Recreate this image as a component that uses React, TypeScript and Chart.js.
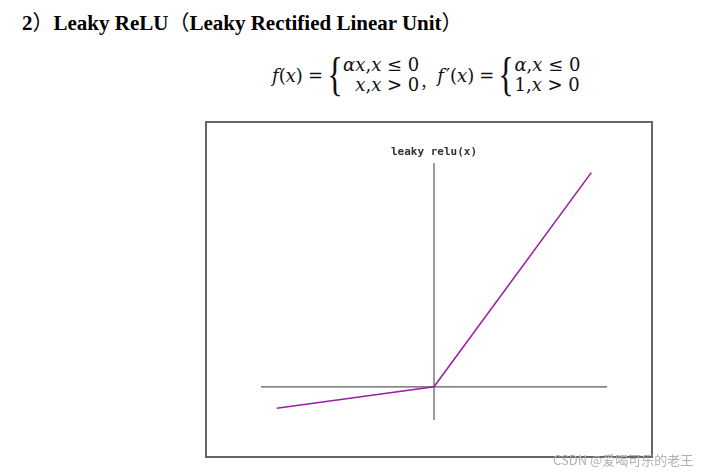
import React, { useEffect, useRef } from "react";
import { Chart, registerables } from "chart.js";

Chart.register(...registerables);

// Data: leaky ReLU with alpha = 0.1
const xValues = [-10, 0, 10];
const yValues = [-1, 0, 10];
const xRange = [-11, 11];
const yRange = [-1.55, 10.45];
const chartTitle = "leaky relu(x)";

const axesPlugin = {
  id: "zeroAxes",
  beforeDatasetsDraw(chart: any) {
    const { ctx, chartArea, scales } = chart;
    const x0 = scales.x.getPixelForValue(0);
    const y0 = scales.y.getPixelForValue(0);
    ctx.save();
    ctx.strokeStyle = "#5a5a5a";
    ctx.lineWidth = 1.2;
    ctx.beginPath();
    ctx.moveTo(chartArea.left, y0);
    ctx.lineTo(chartArea.right, y0);
    ctx.moveTo(x0, chartArea.top);
    ctx.lineTo(x0, chartArea.bottom);
    ctx.stroke();
    ctx.restore();
  },
};

function LeakyChart() {
  const ref = useRef<HTMLCanvasElement | null>(null);
  useEffect(() => {
    if (!ref.current) return;
    const chart = new Chart(ref.current, {
      type: "scatter",
      data: {
        datasets: [
          {
            data: xValues.map((x, i) => ({ x, y: yValues[i] })),
            showLine: true,
            borderColor: "#9a1fa6",
            borderWidth: 1.6,
            pointRadius: 0,
            fill: false,
          },
        ],
      },
      options: {
        animation: false,
        responsive: false,
        maintainAspectRatio: false,
        layout: { padding: { left: 54, right: 44, top: 40, bottom: 36 } },
        plugins: { legend: { display: false }, tooltip: { enabled: false }, title: { display: false } },
        scales: {
          x: { type: "linear", min: xRange[0], max: xRange[1], display: false },
          y: { type: "linear", min: yRange[0], max: yRange[1], display: false },
        },
      },
      plugins: [axesPlugin],
    });
    return () => chart.destroy();
  }, []);
  return <canvas ref={ref} width={444} height={333} style={{ width: 444, height: 333, display: "block" }} />;
}

const mathFont = "'DejaVu Serif', 'Liberation Serif', serif";

function Brace() {
  return (
    <span style={{ fontFamily: "'Liberation Serif', serif", fontSize: 46, lineHeight: "44px", display: "inline-block", transform: "scaleX(0.7)", margin: "0 -3px 0 -4px" }}>
      {"{"}
    </span>
  );
}

export default function App() {
  return (
    <div style={{ position: "absolute", left: 0, top: 0, width: 703, height: 473, background: "#fff", overflow: "hidden" }}>
      <div
        style={{
          position: "absolute",
          left: 22,
          top: 6,
          fontFamily: "'Liberation Serif', 'Noto Sans CJK SC', serif",
          fontWeight: "bold",
          fontSize: 21,
          color: "#000",
          whiteSpace: "nowrap",
        }}
      >
        2<span style={{ fontFamily: "'Noto Sans CJK SC'", fontWeight: "normal" }}>）</span>Leaky ReLU
        <span style={{ fontFamily: "'Noto Sans CJK SC'", fontWeight: "normal" }}>（</span>Leaky Rectified Linear Unit
        <span style={{ fontFamily: "'Noto Sans CJK SC'", fontWeight: "normal" }}>）</span>
      </div>

      <div
        style={{
          position: "absolute",
          left: 272,
          top: 53,
          height: 44,
          display: "flex",
          alignItems: "center",
          fontFamily: mathFont,
          fontSize: 18,
          color: "#111",
          whiteSpace: "nowrap",
        }}
      >
        <span style={{ fontStyle: "italic" }}>f</span>
        <span>(</span>
        <span style={{ fontStyle: "italic" }}>x</span>
        <span>)</span>
        <span style={{ margin: "0 5px" }}>=</span>
        <Brace />
        <span style={{ display: "inline-flex", flexDirection: "column", alignItems: "flex-end", lineHeight: "20px" }}>
          <span><i>αx</i>,<i>x</i> ≤ 0</span>
          <span><i>x</i>,<i>x</i> &gt; 0</span>
        </span>
        <span style={{ fontFamily: "'Noto Sans CJK SC'", fontSize: 15, marginTop: 12, marginLeft: 1, marginRight: 2 }}>，</span>
        <span style={{ fontStyle: "italic" }}>f</span>
        <span style={{ marginLeft: 2 }}>′</span>
        <span>(</span>
        <span style={{ fontStyle: "italic" }}>x</span>
        <span>)</span>
        <span style={{ margin: "0 5px" }}>=</span>
        <Brace />
        <span style={{ display: "inline-flex", flexDirection: "column", alignItems: "flex-start", lineHeight: "20px" }}>
          <span><i>α</i>,<i>x</i> ≤ 0</span>
          <span>1,<i>x</i> &gt; 0</span>
        </span>
      </div>

      <div
        style={{
          position: "absolute",
          left: 205,
          top: 121,
          width: 448,
          height: 337,
          border: "2px solid #666",
          boxSizing: "border-box",
          background: "#fff",
        }}
      >
        <LeakyChart />
        <div
          style={{
            position: "absolute",
            left: 0,
            width: 454,
            top: 22,
            textAlign: "center",
            fontFamily: "'DejaVu Sans Mono', monospace",
            fontSize: 11,
            fontWeight: 600,
            color: "#333",
          }}
        >
          {chartTitle}
        </div>
      </div>

      <div
        style={{
          position: "absolute",
          left: 553,
          top: 451,
          fontFamily: "'Noto Sans CJK SC', sans-serif",
          fontSize: 13,
          color: "#b0b0b0",
          whiteSpace: "nowrap",
          lineHeight: "17px",
        }}
      >
        CSDN @爱喝可乐的老王
      </div>
    </div>
  );
}
